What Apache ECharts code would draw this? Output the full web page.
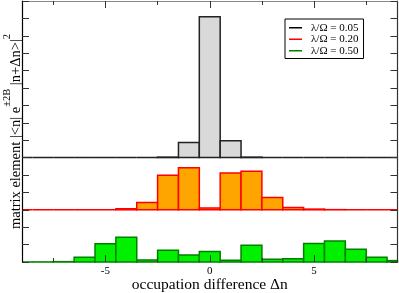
<!DOCTYPE html>
<html><head><meta charset="utf-8">
<script src="https://cdn.jsdelivr.net/npm/echarts@6/dist/echarts.min.js"></script>
<style>html,body{margin:0;padding:0;background:#fff}#c{width:399px;height:293px}</style>
</head><body><div id="c"></div>
<script>
// occupation differences (bin centres)
const bins = [-9,-8,-7,-6,-5,-4,-3,-2,-1,0,1,2,3,4,5,6,7,8,9];
const seriesNames = ['λ/Ω = 0.05', 'λ/Ω = 0.20', 'λ/Ω = 0.50'];
// heights in panel (tick) units
const lam005 = [0,0,0,0,0,0,0,0.03,0.87,8.1,0.97,0.03,0,0,0,0,0,0,0];
const lam020 = [0,0,0,0,0,0.06,0.42,1.98,2.42,0.11,2.11,2.22,0.71,0.13,0.04,0.01,0,0,0];
const lam050 = [0,0.005,0.02,0.27,1.05,1.42,0.12,0.67,0.40,0.61,0.10,0.96,0.16,0.19,1.07,1.21,0.73,0.27,0.08];
const panelBase = [6, 3, 0];
const xTickValues = [-5, 0, 5];
const xTickLabels = ['-5', '0', '5'];
const xMinorTicks = [-7.5, -2.5, 2.5, 7.5];

const FONT = 'Liberation Serif';
const fills = ['#d9d9d9', '#ffa500', '#00f000'];
const strokes = ['#222222', '#ff0000', '#008000'];
const legendColors = ['#000000', '#ff0000', '#008000'];
const values = [lam005, lam020, lam050];

function makeRender(base) {
  return function (params, api) {
    const x = api.value(0), v = api.value(1);
    const p0 = api.coord([x - 0.5, base + v]);
    const p1 = api.coord([x + 0.5, base]);
    const cs = params.coordSys;
    const r = echarts.graphic.clipRectByRect(
      {x: p0[0], y: p0[1], width: p1[0] - p0[0], height: p1[1] - p0[1]},
      {x: cs.x, y: cs.y, width: cs.width, height: cs.height});
    if (!r) return;
    return {type: 'rect', shape: r, style: api.style()};
  };
}

const chart = echarts.init(document.getElementById('c'), null, {renderer: 'canvas'});
const gridBox = {left: 22, right: 1.5, top: 1, bottom: 31, containLabel: false, outerBoundsMode: 'none'};
const majorTick = {show: true, inside: true, length: 7, customValues: xTickValues, lineStyle: {color: '#333', width: 1}};
const minorTick = {show: true, inside: true, length: 4, customValues: xMinorTicks, lineStyle: {color: '#333', width: 1}};

chart.setOption({
  animation: false,
  backgroundColor: '#fff',
  grid: [Object.assign({}, gridBox), Object.assign({}, gridBox)],
  xAxis: [
    {gridIndex: 0, type: 'value', position: 'bottom', min: -9, max: 9, z: 5,
     axisLine: {show: false, onZero: false}, axisTick: majorTick, splitLine: {show: false},
     axisLabel: {customValues: xTickValues, formatter: v => xTickLabels[xTickValues.indexOf(v)],
       fontFamily: FONT, fontSize: 11, color: '#000', margin: 4},
     name: 'occupation difference Δn', nameLocation: 'middle', nameGap: 14.5, nameMoveOverlap: false,
     nameTextStyle: {fontFamily: FONT, fontSize: 15.5, color: '#000'}},
    {gridIndex: 0, type: 'value', position: 'top', min: -9, max: 9, z: 5,
     axisLine: {show: true, onZero: false, lineStyle: {color: '#888', width: 1}}, axisTick: majorTick,
     axisLabel: {show: false}, splitLine: {show: false}},
    {gridIndex: 1, type: 'value', position: 'bottom', min: -9, max: 9, z: 5,
     axisLine: {show: false, onZero: false}, axisTick: minorTick, axisLabel: {show: false}, splitLine: {show: false}},
    {gridIndex: 1, type: 'value', position: 'top', min: -9, max: 9, z: 5,
     axisLine: {show: false, onZero: false}, axisTick: minorTick, axisLabel: {show: false}, splitLine: {show: false}}
  ],
  yAxis: [
    {gridIndex: 0, type: 'value', position: 'left', min: 0, max: 15, interval: 1, z: 5,
     axisLine: {show: true, onZero: false, lineStyle: {color: '#000', width: 1.2}},
     axisTick: {show: true, inside: true, length: 7, lineStyle: {color: '#333'}},
     axisLabel: {show: false}, splitLine: {show: false},
     name: '{m|matrix element |<n| e}{s|±2B}{m| |n+Δn>|}{s|2}',
     nameLocation: 'middle', nameRotate: 90, nameGap: -1.5, nameMoveOverlap: false,
     nameTextStyle: {rich: {
       m: {fontFamily: FONT, fontSize: 14.5, lineHeight: 22, verticalAlign: 'bottom', color: '#000'},
       s: {fontFamily: FONT, fontSize: 10.5, lineHeight: 12, verticalAlign: 'top', color: '#000'}
     }}},
    {gridIndex: 0, type: 'value', position: 'right', min: 0, max: 15, interval: 1, z: 5,
     axisLine: {show: true, onZero: false, lineStyle: {color: '#333', width: 1.2}},
     axisTick: {show: true, inside: true, length: 7, lineStyle: {color: '#333'}},
     axisLabel: {show: false}, splitLine: {show: false}},
    {gridIndex: 1, type: 'value', show: false, min: 0, max: 15, axisLine: {onZero: false}}
  ],
  legend: {
    left: 285, top: 19, orient: 'vertical', itemWidth: 13, itemHeight: 1.5, itemGap: 0,
    padding: [3, 5, 2, 4], borderColor: '#000', borderWidth: 1, backgroundColor: '#fff',
    selectedMode: false,
    textStyle: {fontFamily: FONT, fontSize: 11, lineHeight: 11.5, color: '#000', padding: [0, 0, 0, 4]},
    data: seriesNames.map((n, i) => ({name: n, icon: 'rect', itemStyle: {color: legendColors[i], borderWidth: 0}}))
  },
  series: seriesNames.map((n, i) => ({
    name: n, type: 'custom', xAxisIndex: 0, yAxisIndex: 0,
    renderItem: makeRender(panelBase[i]),
    itemStyle: {color: fills[i], borderColor: strokes[i], borderWidth: 1.5},
    encode: {x: 0, y: 1},
    data: bins.map((b, j) => [b, values[i][j]])
  }))
});
</script></body></html>
